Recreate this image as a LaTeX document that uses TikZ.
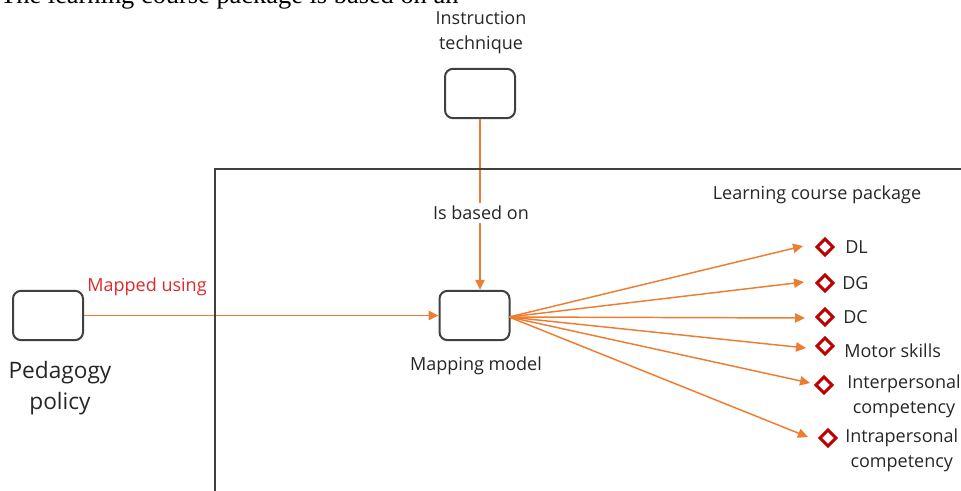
\documentclass[tikz,border=0pt]{standalone}
\usepackage{fontspec}
\setmainfont{Open Sans}
\newfontfamily\serifA{Liberation Serif}
\usetikzlibrary{arrows.meta,shapes.geometric}
\definecolor{arr}{HTML}{ED7D31}
\definecolor{boxc}{HTML}{404040}
\definecolor{dred}{HTML}{C00000}
\definecolor{lblred}{HTML}{E0282A}
\definecolor{txt}{HTML}{262626}
\begin{document}
\begin{tikzpicture}[x=0.75pt,y=-0.75pt,
  blk/.style={draw=boxc, line width=1.5pt, rounded corners=6pt, minimum width=52.5pt, minimum height=37pt, inner sep=0pt},
  lbl/.style={font=\fontsize{13.5pt}{18.75pt}\selectfont, text=txt, inner sep=0pt},
  biglbl/.style={font=\fontsize{17pt}{23.25pt}\selectfont, text=txt, inner sep=0pt},
  conn/.style={draw=arr, line width=1.1pt, -{Triangle[length=7.5pt,width=7pt]}},
  dia/.style={shape=diamond, draw=dred, line width=2.2pt, minimum width=13pt, minimum height=13pt, inner sep=0pt},
  frame/.style={draw=boxc, line width=1.5pt}
]
\useasboundingbox (0,0) rectangle (961,491);
\clip (0,0) rectangle (961,491);

% top cut-off text
\node[anchor=base west, inner sep=0pt, font=\serifA\fontsize{19.8pt}{22pt}\selectfont] (toptext) at (0,4) {The learning course package is based on an};

% boxes
\node[blk] (ins) at (480,93.5) {};
\node[blk] (mm) at (474.5,315.5) {};
\node[blk] (ped) at (48,315.5) {};

% labels
\node[lbl, align=center] (inslbl) at (481,32.5) {Instruction\\technique};
\node[lbl] (mmlbl) at (476,366) {Mapping model};
\node[biglbl, align=center] (pedlbl) at (60,388) {Pedagogy\\policy};
\node[lbl] (lcp) at (817,195) {Learning course package};

% connectors into mapping model
\draw[conn] (ped.east) -- (mm.west);
\node[lbl, text=lblred] (mapped) at (147,287) {Mapped using};
\draw[conn] (ins.south) -- (ins.south |- mm.north);
\node[lbl, fill=white, inner ysep=2pt] (based) at (481,213) {Is based on};

% frame
\coordinate (fr) at (215,169);
\draw[frame] (fr |- 0,500) -- (fr) -- (fr -| 975,0);

% items
\coordinate (src) at (509,317);
\node[dia] (d1) at (825,247) {};
\node[dia] (d2) at (825,283) {};
\node[dia] (d3) at (825,317) {};
\node[dia] (d4) at (825,346) {};
\node[dia] (d5) at (824,385) {};
\node[dia] (d6) at (828,438) {};

\node[lbl, anchor=west] (l1) at (845,247) {DL};
\node[lbl, anchor=west] (l2) at (842,283) {DG};
\node[lbl, anchor=west] (l3) at (843,317) {DC};
\node[lbl, anchor=west] (l4) at (844,351) {Motor skills};
\node[lbl, anchor=west, align=center] (l5) at (847,396) {Interpersonal\\competency};
\node[lbl, anchor=west, align=center] (l6) at (845,450.5) {Intrapersonal\\competency};

\coordinate (t1) at (803,246);
\coordinate (t2) at (804,282);
\coordinate (t3) at (805,318);
\coordinate (t4) at (806,348);
\coordinate (t5) at (810,383);
\coordinate (t6) at (808,437);
\foreach \t in {t1,t2,t3,t4,t5,t6} \draw[conn] (src) -- (\t);
\end{tikzpicture}
\end{document}
